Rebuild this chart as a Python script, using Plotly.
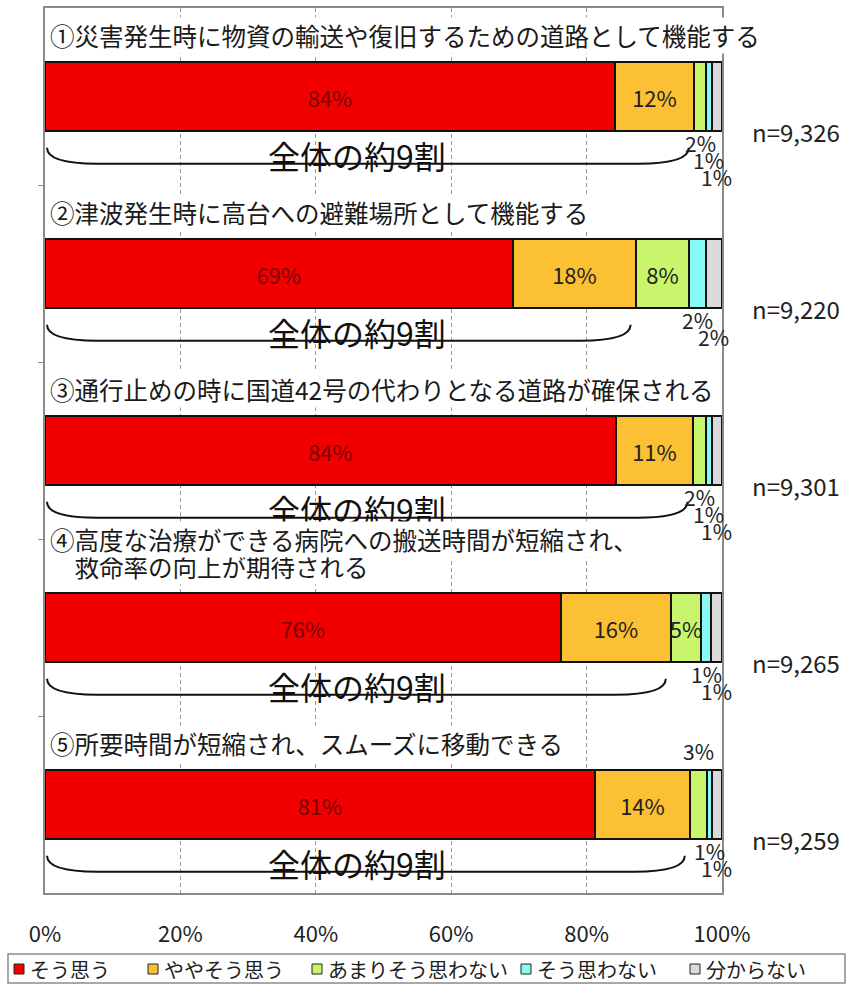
import plotly.graph_objects as go

# ---------------- data ----------------
titles = [
    "①災害発生時に物資の輸送や復旧するための道路として機能する",
    "②津波発生時に高台への避難場所として機能する",
    "③通行止めの時に国道42号の代わりとなる道路が確保される",
    "④高度な治療ができる病院への搬送時間が短縮され、<br>　救命率の向上が期待される",
    "⑤所要時間が短縮され、スムーズに移動できる",
]
series_names = ["そう思う", "ややそう思う", "あまりそう思わない", "そう思わない", "分からない"]

sou_omou = [84.2, 69.1, 84.3, 76.2, 81.2]
yaya_sou = [11.7, 18.2, 11.4, 16.3, 14.1]
amari = [1.7, 7.8, 1.9, 4.4, 2.5]
sou_omowanai = [0.9, 2.5, 0.9, 1.5, 0.7]
wakaranai = [1.5, 2.4, 1.5, 1.6, 1.5]

lbl_sou_omou = [84, 69, 84, 76, 81]
lbl_yaya_sou = [12, 18, 11, 16, 14]
lbl_amari = [2, 8, 2, 5, 3]
lbl_sou_omowanai = [1, 2, 1, 1, 1]
lbl_wakaranai = [1, 2, 1, 1, 1]

n_counts = ["9,326", "9,220", "9,301", "9,265", "9,259"]
brace_text = "全体の約9割"
x_ticks = [0, 20, 40, 60, 80, 100]
x_tick_labels = ["0%", "20%", "40%", "60%", "80%", "100%"]

# ---------------- style ----------------
FONT = "Noto Sans CJK JP"
colors = ["#F20000", "#FCC034", "#C8F56C", "#88FAF4", "#DADADA"]
inside_text_colors = ["#7A0000", "#222222", "#222222", "#222222", "#222222"]
BAR_W = 0.395
INSIDE_MIN = 4  # segments narrower than this get their label outside

W, H = 852, 984
ML, MR, MT, MB = 45, 130, 8, 91
PW, PH = W - ML - MR, H - MT - MB


def px_x(px):
    return (px - ML) / PW


def px_y(py):
    return (H - MB - py) / PH


values = [sou_omou, yaya_sou, amari, sou_omowanai, wakaranai]
labels = [lbl_sou_omou, lbl_yaya_sou, lbl_amari, lbl_sou_omowanai, lbl_wakaranai]
ypos = list(range(len(titles)))

fig = go.Figure()
for s, name in enumerate(series_names):
    txt = [f"{labels[s][i]}%" if values[s][i] >= INSIDE_MIN else "" for i in ypos]
    fig.add_trace(go.Bar(
        name=name, orientation="h", y=ypos, x=values[s], width=BAR_W,
        marker=dict(color=colors[s], line=dict(color="#111111", width=2)),
        text=txt, textposition="inside", insidetextanchor="middle",
        constraintext="none", textangle=0,
        textfont=dict(family=FONT, size=22, color=inside_text_colors[s]),
        hoverinfo="skip", showlegend=False,
    ))

annotations = []
shapes = []
LINE_STEP = 0.155  # title line spacing (axis units)
for i in ypos:
    # question title (each line its own box; first line drawn last so it sits on top)
    lines = titles[i].split("<br>")
    for k in reversed(range(len(lines))):
        annotations.append(dict(
            x=0, y=i - 0.345 - LINE_STEP * (len(lines) - 1 - k), xref="x", yref="y",
            xanchor="left", yanchor="middle",
            xshift=4, text=lines[k], showarrow=False, align="left",
            bgcolor="white", borderpad=0,
            font=dict(family=FONT, size=24.5, color="#1a1a1a")))
    # n= label
    annotations.append(dict(
        x=px_x(750), y=i + 0.2, xref="paper", yref="y", xanchor="left", yanchor="middle",
        text=f"n={n_counts[i]}", showarrow=False,
        font=dict(family=FONT, size=24, color="#222222")))
    # outside labels for small segments
    cum = 0
    below = 0
    for s in range(len(series_names)):
        v = values[s][i]
        center = cum + v / 2
        cum += v
        if v >= INSIDE_MIN:
            continue
        if s == 2 and i == 4:
            annotations.append(dict(
                x=center, y=i - BAR_W / 2, xref="x", yref="y", yanchor="bottom",
                yshift=2, text=f"{labels[s][i]}%", showarrow=False,
                font=dict(family=FONT, size=21, color="#222222")))
        else:
            annotations.append(dict(
                x=center, y=i + BAR_W / 2, xref="x", yref="y", yanchor="middle",
                yshift=-(12 + 17 * below), text=f"{labels[s][i]}%", showarrow=False,
                font=dict(family=FONT, size=21, color="#222222")))
            below += 1
    # brace under the first two segments
    x0 = 0.3
    x1 = sou_omou[i] + yaya_sou[i] - 0.8
    r = 7.4
    yt = i + 0.29
    yb = i + 0.38
    shapes.append(dict(
        type="path", xref="x", yref="y",
        path=f"M {x0},{yt} Q {x0},{yb} {x0 + r},{yb} L {x1 - r},{yb} Q {x1},{yb} {x1},{yt}",
        line=dict(color="#111111", width=2)))
    annotations.append(dict(
        x=32.6, y=i + 0.33, xref="x", yref="y", xanchor="left", yanchor="middle",
        text=brace_text, showarrow=False,
        font=dict(family=FONT, size=32, color="#111111")))

# ---------------- legend (drawn by hand) ----------------
shapes.append(dict(
    type="rect", xref="paper", yref="paper",
    x0=px_x(8), x1=px_x(845), y0=px_y(983), y1=px_y(954),
    line=dict(color="#8a8a8a", width=1.5), fillcolor="white"))
legend_sq_px = [19, 153, 317, 526, 695]
for s, name in enumerate(series_names):
    cx = legend_sq_px[s]
    shapes.append(dict(
        type="rect", xref="paper", yref="paper",
        x0=px_x(cx - 5), x1=px_x(cx + 5), y0=px_y(974), y1=px_y(964),
        line=dict(color="#222222", width=1), fillcolor=colors[s]))
    annotations.append(dict(
        x=px_x(cx + 9), y=px_y(969), xref="paper", yref="paper",
        xanchor="left", yanchor="middle", text=name, showarrow=False,
        font=dict(family=FONT, size=20, color="#222222")))

fig.update_layout(
    width=W, height=H,
    margin=dict(l=ML, r=MR, t=MT, b=MB, autoexpand=False),
    paper_bgcolor="white", plot_bgcolor="white",
    barmode="stack",
    bargap=0,
    showlegend=False,
    xaxis=dict(
        range=[0, 100], tickvals=x_ticks, ticktext=x_tick_labels,
        showgrid=True, gridcolor="#9a9a9a", gridwidth=1, griddash="4px,3px",
        zeroline=False, showline=True, mirror=True, linecolor="#8a8a8a", linewidth=1.5,
        ticks="", ticklabelstandoff=21,
        tickfont=dict(family=FONT, size=22, color="#222222"),
    ),
    yaxis=dict(
        range=[4.5, -0.5], tickvals=[0.5, 1.5, 2.5, 3.5], showticklabels=False,
        ticks="outside", ticklen=5, tickcolor="#8a8a8a",
        showgrid=False, zeroline=False, showline=True, mirror=True,
        linecolor="#8a8a8a", linewidth=1.5,
    ),
    annotations=annotations,
    shapes=shapes,
    font=dict(family=FONT),
)

fig.write_html(
    "out.html",
    config={"displayModeBar": False},
    post_script="document.body.style.margin='0px';document.body.style.overflow='hidden';",
)
